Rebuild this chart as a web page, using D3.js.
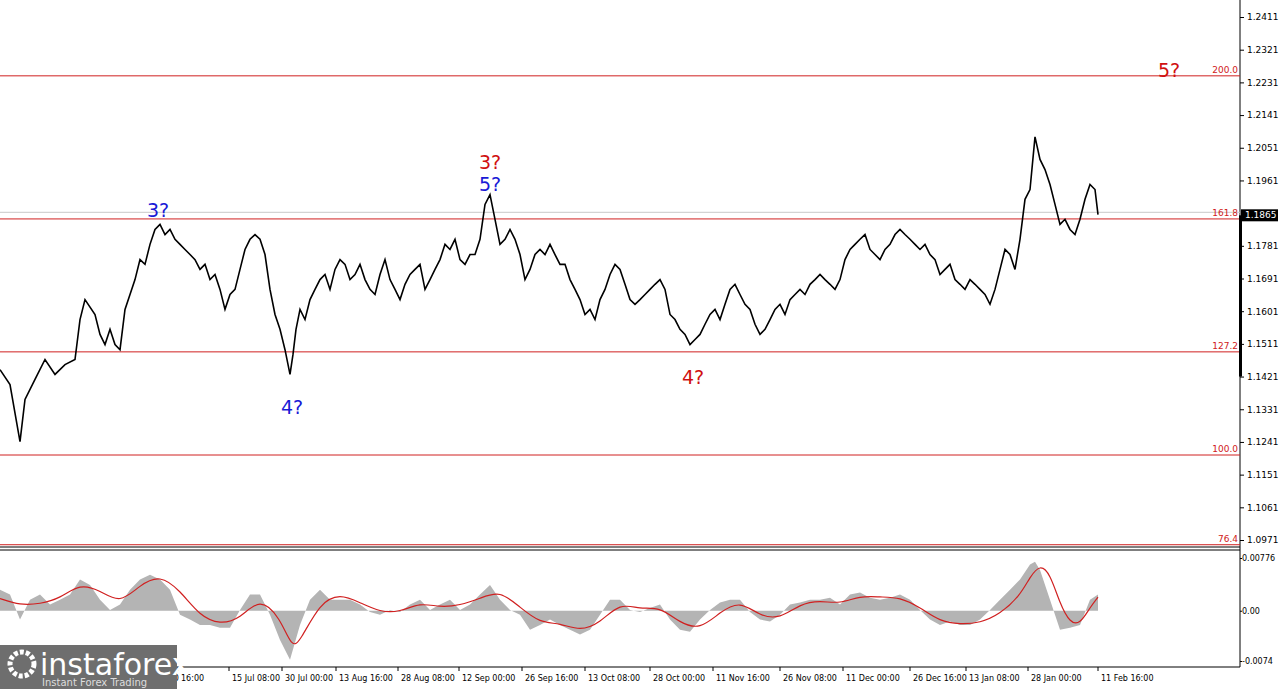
<!DOCTYPE html><html><head><meta charset="utf-8"><script src="https://cdn.jsdelivr.net/npm/d3@7"></script>
<style>body{margin:0;background:#fff}text{font-family:Tahoma,"DejaVu Sans",sans-serif}</style></head><body><svg id="c" width="1280" height="689"></svg><script>
// price path: [bar position, price]
const priceIdx=[0,10,20,25,35,45,55,65,75,80,85,95,100,105,110,115,120,125,130,135,140,145,150,155,160,165,170,175,180,185,190,195,200,205,210,215,220,225,230,235,240,245,250,255,260,265,270,275,280,285,290,293,296,300,305,310,315,320,325,330,335,340,345,350,355,360,365,370,375,380,385,390,395,400,405,410,415,420,425,430,435,440,445,450,455,460,465,470,475,480,485,490,495,500,505,510,515,520,525,530,535,540,545,550,555,560,565,570,575,580,585,590,595,600,605,610,615,620,625,630,635,640,645,650,655,660,665,670,675,680,685,690,695,700,705,710,715,720,725,730,735,740,745,750,755,760,765,770,775,780,785,790,795,800,805,810,815,820,825,830,835,840,845,850,855,860,865,870,875,880,885,890,895,900,905,910,915,920,925,930,935,940,945,950,955,960,965,970,975,980,985,990,995,1000,1005,1010,1015,1020,1025,1030,1035,1040,1045,1050,1055,1060,1065,1070,1075,1080,1085,1090,1095,1098];
const priceVal=[1.1440,1.1399,1.1242,1.1358,1.1413,1.1468,1.1427,1.1454,1.1468,1.1578,1.1633,1.1592,1.1537,1.1509,1.1551,1.1509,1.1495,1.1606,1.1647,1.1688,1.1743,1.1730,1.1785,1.1826,1.1840,1.1812,1.1826,1.1799,1.1785,1.1771,1.1757,1.1743,1.1716,1.1730,1.1688,1.1702,1.1661,1.1606,1.1647,1.1661,1.1716,1.1771,1.1799,1.1812,1.1799,1.1757,1.1661,1.1592,1.1551,1.1495,1.1427,1.1482,1.1551,1.1606,1.1578,1.1633,1.1661,1.1688,1.1702,1.1661,1.1716,1.1743,1.1730,1.1688,1.1702,1.1730,1.1688,1.1661,1.1647,1.1702,1.1743,1.1688,1.1661,1.1633,1.1675,1.1702,1.1716,1.1730,1.1661,1.1688,1.1716,1.1743,1.1785,1.1771,1.1799,1.1743,1.1730,1.1757,1.1757,1.1799,1.1895,1.1922,1.1854,1.1785,1.1799,1.1826,1.1799,1.1757,1.1688,1.1716,1.1757,1.1771,1.1757,1.1785,1.1757,1.1730,1.1730,1.1688,1.1661,1.1633,1.1592,1.1606,1.1578,1.1633,1.1661,1.1702,1.1730,1.1716,1.1675,1.1633,1.1620,1.1633,1.1647,1.1661,1.1675,1.1688,1.1661,1.1592,1.1578,1.1551,1.1537,1.1509,1.1523,1.1537,1.1565,1.1592,1.1606,1.1578,1.1620,1.1661,1.1675,1.1647,1.1620,1.1606,1.1565,1.1537,1.1551,1.1578,1.1606,1.1620,1.1592,1.1633,1.1647,1.1661,1.1647,1.1675,1.1688,1.1702,1.1688,1.1675,1.1661,1.1688,1.1743,1.1771,1.1785,1.1799,1.1812,1.1771,1.1757,1.1743,1.1771,1.1785,1.1812,1.1826,1.1812,1.1799,1.1785,1.1771,1.1785,1.1757,1.1743,1.1702,1.1716,1.1730,1.1688,1.1675,1.1661,1.1688,1.1675,1.1661,1.1647,1.1620,1.1661,1.1716,1.1771,1.1757,1.1716,1.1799,1.1909,1.1936,1.2081,1.2019,1.1991,1.1950,1.1895,1.1840,1.1854,1.1826,1.1812,1.1854,1.1909,1.1950,1.1936,1.1867];
const macdIdx=[0,10,20,30,40,50,60,70,80,90,100,110,120,130,140,150,160,170,180,190,200,210,220,230,240,250,260,270,280,290,300,310,320,330,340,350,360,370,380,390,400,410,420,430,440,450,460,470,480,490,500,510,520,530,540,550,560,570,580,590,600,610,620,630,640,650,660,670,680,690,700,710,720,730,740,750,760,770,780,790,800,810,820,830,840,850,860,870,880,890,900,910,920,930,940,950,960,970,980,990,1000,1010,1020,1030,1035,1040,1050,1060,1070,1080,1090,1098];
const macdVal=[0.0031,0.0024,-0.0013,0.0016,0.0024,0.0009,0.0016,0.0024,0.0046,0.0038,0.0016,0.0001,0.0009,0.0031,0.0046,0.0053,0.0046,0.0031,-0.0006,-0.0013,-0.0021,-0.0021,-0.0025,-0.0025,0.0001,0.0024,0.0024,-0.0006,-0.0043,-0.0072,-0.0021,0.0016,0.0031,0.0016,0.0016,0.0016,0.0009,-0.0002,-0.0006,0.0001,-0.0002,0.0009,0.0016,0.0001,0.0009,0.0016,0.0001,0.0009,0.0024,0.0038,0.0016,0.0001,-0.0006,-0.0028,-0.0021,-0.0013,-0.0021,-0.0028,-0.0035,-0.0028,-0.0006,0.0016,0.0016,0.0001,-0.0002,0.0004,0.0009,-0.0013,-0.0028,-0.0031,-0.0013,0.0001,0.0012,0.0016,0.0016,-0.0002,-0.0013,-0.0016,-0.0006,0.0009,0.0012,0.0016,0.0016,0.0019,0.0009,0.0024,0.0027,0.0019,0.0016,0.0019,0.0024,0.0016,0.0001,-0.0013,-0.0021,-0.0016,-0.0021,-0.0021,-0.0013,0.0001,0.0016,0.0031,0.0046,0.0068,0.0072,0.0060,0.0016,-0.0028,-0.0025,-0.0021,0.0016,0.0024];
const signalIdx=[0,20,40,60,80,100,120,140,160,180,200,220,240,260,280,292,300,320,340,360,380,400,420,440,460,480,500,520,540,560,580,600,620,640,660,680,700,720,740,760,780,800,820,840,860,880,900,920,940,960,980,1000,1020,1030,1040,1050,1060,1070,1080,1090,1098];
const signalVal=[0.0018,0.0008,0.0010,0.0018,0.0040,0.0030,0.0010,0.0038,0.0053,0.0030,-0.0008,-0.0020,-0.0012,0.0020,-0.0010,-0.0055,-0.0045,0.0012,0.0025,0.0012,-0.0002,-0.0002,0.0012,0.0005,0.0008,0.0018,0.0030,0.0005,-0.0018,-0.0018,-0.0030,-0.0018,0.0012,0.0002,0.0006,-0.0018,-0.0028,-0.0002,0.0015,-0.0008,-0.0012,0.0010,0.0015,0.0010,0.0022,0.0020,0.0020,0.0005,-0.0016,-0.0020,-0.0018,-0.0005,0.0022,0.0050,0.0068,0.0055,0.0010,-0.0018,-0.0020,0.0005,0.0020];
const priceTicks=[1.2411,1.2321,1.2231,1.2141,1.2051,1.1961,1.1781,1.1691,1.1601,1.1511,1.1421,1.1331,1.1241,1.1151,1.1061,1.0971];
const fibLevels=[1.2249,1.1855,1.1489,1.1205,1.0958];
const fibLabels=["200.0","161.8","127.2","100.0","76.4"];
const dateTickPos=[125,178,229,282,336,398,459,522,585,650,713,780,843,910,966,1028,1098];
const dateTicks=["30 Jun 16:00","16:00","15 Jul 08:00","30 Jul 00:00","13 Aug 16:00","28 Aug 08:00","12 Sep 00:00","26 Sep 16:00","13 Oct 08:00","28 Oct 00:00","11 Nov 16:00","26 Nov 08:00","11 Dec 00:00","26 Dec 16:00","13 Jan 08:00","28 Jan 00:00","11 Feb 16:00"];
const waveLabels=[{i:158,p:1.1860,t:"3?",c:"#1a1ad6"},{i:292,p:1.1318,t:"4?",c:"#1a1ad6"},{i:490,p:1.1992,t:"3?",c:"#d01010"},{i:490,p:1.1932,t:"5?",c:"#1a1ad6"},{i:693,p:1.1400,t:"4?",c:"#d01010"},{i:1169,p:1.2245,t:"5?",c:"#d01010"}];
const lastPrice=1.1865;

const svg=d3.select("#c");
const R=1240;
const x=d3.scaleLinear().domain([0,1240]).range([0,R]);
const y=d3.scaleLinear().domain([1.0971,1.2411]).range([540,17]);
const ym=d3.scaleLinear().domain([-0.0074,0.00776]).range([661,558]);
[547,550,667].forEach(v=>svg.append("line").attr("x1",0).attr("x2",R).attr("y1",v).attr("y2",v).attr("stroke","#000"));
svg.append("line").attr("x1",R).attr("x2",R).attr("y1",0).attr("y2",667).attr("stroke","#000");
svg.append("line").attr("x1",0).attr("x2",R).attr("y1",y(lastPrice)-3).attr("y2",y(lastPrice)-3).attr("stroke","#c8c8c8");
fibLevels.forEach((v,k)=>{
 svg.append("line").attr("x1",0).attr("x2",R).attr("y1",y(v)).attr("y2",y(v)).attr("stroke","#d02020").attr("stroke-width",1);
 svg.append("text").attr("x",R-2).attr("y",y(v)-3).attr("text-anchor","end").attr("font-size",9).attr("fill","#d02020").text(fibLabels[k]);
});
const pts=priceIdx.map((d,k)=>[d,priceVal[k]]);
svg.append("path").attr("d",d3.line().x(d=>x(d[0])).y(d=>y(d[1])).curve(d3.curveLinear)(pts)).attr("fill","none").attr("stroke","#000").attr("stroke-width",1.6);
const ax=svg.append("g").attr("transform",`translate(${R},0)`).call(d3.axisRight(y).tickValues(priceTicks).tickSize(4).tickFormat(d3.format(".4f")));
ax.select(".domain").remove();
ax.selectAll("text").attr("font-size",9).attr("fill","#000");
svg.append("rect").attr("x",R-1).attr("y",y(lastPrice)).attr("width",3).attr("height",y(1.1421)-y(lastPrice)).attr("fill","#000");
svg.append("rect").attr("x",R+1).attr("y",y(lastPrice)-6).attr("width",37).attr("height",12).attr("fill","#000");
svg.append("text").attr("x",R+5).attr("y",y(lastPrice)+3).attr("font-size",9).attr("fill","#fff").text(lastPrice.toFixed(4));
waveLabels.forEach(w=>svg.append("text").attr("x",x(w.i)).attr("y",y(w.p)).attr("text-anchor","middle").attr("font-size",19).attr("font-family","Arial,Liberation Sans").attr("fill",w.c).text(w.t));
svg.append("path").attr("d",d3.area().x(d=>x(d[0])).y0(ym(0)).y1(d=>ym(d[1]))(macdIdx.map((d,k)=>[d,macdVal[k]]))).attr("fill","#b4b4b4");
svg.append("path").attr("d",d3.line().x(d=>x(d[0])).y(d=>ym(d[1])).curve(d3.curveBasis)(signalIdx.map((d,k)=>[d,signalVal[k]]))).attr("fill","none").attr("stroke","#d02020").attr("stroke-width",1.2);
const am=svg.append("g").attr("transform",`translate(${R},0)`).call(d3.axisRight(ym).tickValues([0.00776,0,-0.0074]).tickSize(2).tickFormat(d=>d===0?"0.00":String(d)));
am.select(".domain").remove();am.selectAll("text").attr("font-size",8).attr("dx",-3);
const ad=svg.append("g").attr("transform","translate(0,667)");
dateTickPos.forEach((p,k)=>{ad.append("line").attr("x1",x(p)).attr("x2",x(p)).attr("y1",0).attr("y2",4).attr("stroke","#000");
 ad.append("text").attr("x",x(p)+3).attr("y",14).attr("font-size",8).text(dateTicks[k]);});
svg.append("rect").attr("x",0).attr("y",645).attr("width",177).attr("height",44).attr("fill","#6e6e6e");
svg.append("text").attr("x",40).attr("y",675).attr("font-size",30).attr("fill","#fff").attr("font-family","Arial").text("instaforex");
svg.append("text").attr("x",42).attr("y",686).attr("font-size",10).attr("fill","#ddd").text("Instant Forex Trading");
svg.append("circle").attr("cx",22).attr("cy",664).attr("r",12).attr("fill","none").attr("stroke","#fff").attr("stroke-width",5).attr("stroke-dasharray","4 2");
</script></body></html>
